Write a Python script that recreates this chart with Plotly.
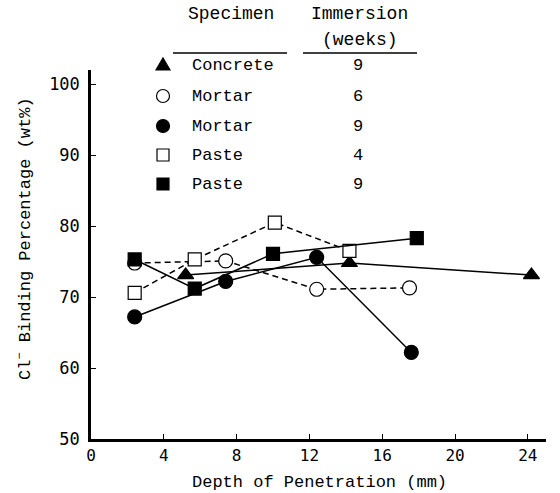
import plotly.graph_objects as go

# Chloride binding versus depth of penetration
concrete_x = [5.2, 14.2, 24.2]
concrete_y = [73.1, 74.8, 73.1]

mortar6_x = [2.4, 7.4, 12.4, 17.5]
mortar6_y = [74.8, 75.1, 71.1, 71.3]

mortar9_x = [2.4, 7.4, 12.4, 17.6]
mortar9_y = [67.2, 72.2, 75.6, 62.2]

paste4_x = [2.4, 5.7, 10.1, 14.2]
paste4_y = [70.6, 75.3, 80.5, 76.5]

paste9_x = [2.4, 5.7, 10.0, 17.9]
paste9_y = [75.3, 71.2, 76.1, 78.3]

# key table
key_specimen = ["Concrete", "Mortar", "Mortar", "Paste", "Paste"]
key_weeks = ["9", "6", "9", "4", "9"]
key_symbol = ["triangle", "circle-open", "circle", "square-open", "square"]

x_ticks = [0, 4, 8, 12, 16, 20, 24]
y_ticks = [50, 60, 70, 80, 90, 100]

MONO = "Liberation Mono, Courier New, monospace"
NUM = "DejaVu Sans Mono, monospace"
BLACK = "#000000"

W, H = 560, 493
ML, MR, MT, MB = 91, 14, 70, 54
PW, PH = W - ML - MR, H - MT - MB


def px(x):
    """page pixel column -> paper fraction"""
    return (x - ML) / PW


def py(y):
    """page pixel row -> paper fraction"""
    return (H - MB - y) / PH


fig = go.Figure()


def series(x, y, symbol, dashed, size):
    open_marker = symbol.endswith("-open")
    fig.add_trace(go.Scatter(
        x=x, y=y, mode="lines+markers",
        line=dict(color=BLACK, width=1.5, dash="6px,4px" if dashed else "solid"),
        marker=dict(
            symbol=symbol.replace("-open", ""),
            size=size, opacity=1,
            color="white" if open_marker else BLACK,
            line=dict(color=BLACK, width=1.2),
        ),
        showlegend=False,
    ))


series(mortar6_x, mortar6_y, "circle-open", True, 14)
series(concrete_x, concrete_y, "triangle-up", False, 14)
series(paste4_x, paste4_y, "square-open", True, 13)
series(mortar9_x, mortar9_y, "circle", False, 14)
series(paste9_x, paste9_y, "square", False, 13)

# key: symbols as pixel-sized shapes, labels as annotations
key_rows_y = [65, 96, 126, 155, 184]
key_x = 163
shapes = []
for sym, yy in zip(key_symbol, key_rows_y):
    fill = "white" if sym.endswith("-open") else BLACK
    base = dict(xref="paper", yref="paper", xsizemode="pixel", ysizemode="pixel",
                xanchor=px(key_x), yanchor=py(yy),
                line=dict(color=BLACK, width=1.2), fillcolor=fill, layer="above")
    if sym.startswith("circle"):
        shapes.append(dict(type="circle", x0=-6.5, x1=6.5, y0=-6.5, y1=6.5, **base))
    elif sym.startswith("square"):
        shapes.append(dict(type="rect", x0=-6, x1=6, y0=-6, y1=6, **base))
    else:
        shapes.append(dict(type="path", path="M -7,-5 L 7,-5 L 0,7 Z", **base))

shapes += [
    dict(type="line", xref="paper", yref="paper", x0=px(173), x1=px(287),
         y0=py(53), y1=py(53), line=dict(color=BLACK, width=1.5)),
    dict(type="line", xref="paper", yref="paper", x0=px(303), x1=px(417),
         y0=py(53), y1=py(53), line=dict(color=BLACK, width=1.5)),
]


def label(x, y, text, size, anchor="center", angle=0):
    return dict(x=px(x), y=py(y), xref="paper", yref="paper", text=text,
                xanchor=anchor, yanchor="middle", showarrow=False, textangle=angle,
                font=dict(family=MONO, size=size, color=BLACK))


annotations = []
for name, wk, yy in zip(key_specimen, key_weeks, key_rows_y):
    annotations.append(label(190, yy, name, 17, "left"))
    annotations.append(label(358, yy, wk, 17))

annotations += [
    label(231, 14, "Specimen", 18),
    label(359, 14, "Immersion", 18),
    label(360, 40, "(weeks)", 18),
    label(24, 239, "Cl<sup>−</sup> Binding Percentage (wt%)", 17, angle=-90),
    label(319, 482, "Depth of Penetration (mm)", 17),
]

fig.update_layout(
    width=W, height=H,
    margin=dict(l=ML, r=MR, t=MT, b=MB),
    paper_bgcolor="white", plot_bgcolor="white",
    xaxis=dict(
        range=[0, 25], tickvals=x_ticks, ticktext=[str(v) for v in x_ticks],
        showline=True, linecolor=BLACK, linewidth=2.5, showgrid=False, zeroline=False,
        ticks="inside", ticklen=5, tickwidth=1.2, tickcolor=BLACK,
        tickfont=dict(family=NUM, size=16, color=BLACK), ticklabelstandoff=0,
    ),
    yaxis=dict(
        range=[50, 102], tickvals=y_ticks, ticktext=[str(v) for v in y_ticks],
        showline=True, linecolor=BLACK, linewidth=2.5, showgrid=False, zeroline=False,
        ticks="inside", ticklen=5, tickwidth=1.2, tickcolor=BLACK,
        tickfont=dict(family=NUM, size=17, color=BLACK), ticklabelstandoff=5,
    ),
    annotations=annotations,
    shapes=shapes,
    showlegend=False,
)

fig.write_html("out.html")
